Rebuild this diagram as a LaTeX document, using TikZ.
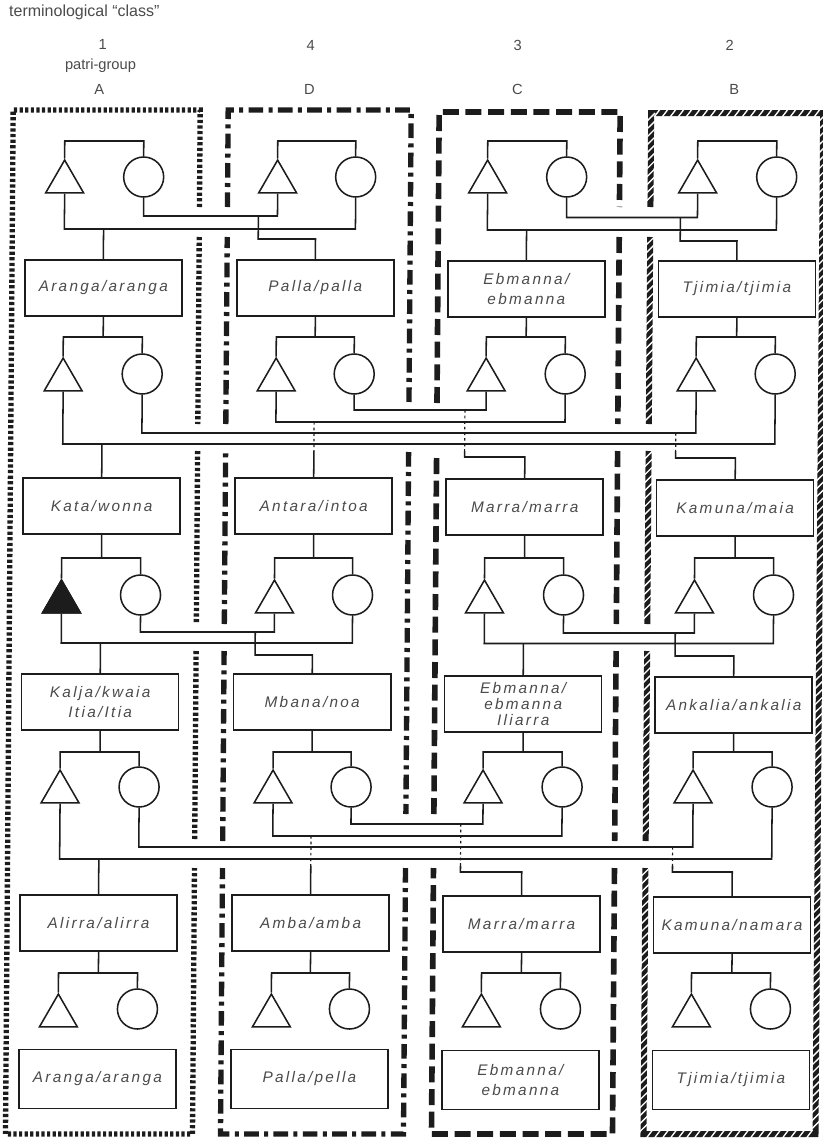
\documentclass[tikz,border=0pt]{standalone}
\usepackage{fontspec}
\setmainfont{Liberation Sans}
\newfontfamily\boxfont{Liberation Sans}[LetterSpace=15]
\usetikzlibrary{shapes.geometric}
\definecolor{ink}{RGB}{28,28,28}
\definecolor{txt}{RGB}{75,75,75}
\tikzset{
  conn/.style={draw=ink, line width=1.15pt},
  cross/.style={draw=ink, line width=0.9pt, dash pattern=on 2pt off 2.2pt},
  male/.style={regular polygon, regular polygon sides=3, draw=ink, line width=1.15pt, inner sep=0pt, minimum size=32.9pt},
  female/.style={circle, draw=ink, line width=1.15pt, inner sep=0pt, minimum size=30pt},
  kin/.style={draw=ink, line width=1.15pt, rectangle, minimum width=117.75pt, minimum height=42pt, inner sep=1pt, align=center, text=txt, font=\boxfont\itshape\fontsize{11.5}{15}\selectfont},
  hdr/.style={text=txt, inner sep=0pt, font=\fontsize{11}{13}\selectfont},
  grpA/.style={draw=ink, line width=4pt, dash pattern=on 2.4pt off 1.8pt},
  grpD/.style={draw=ink, line width=4pt, dash pattern=on 11pt off 4pt on 3pt off 4pt},
  grpC/.style={draw=ink, line width=4.2pt, dash pattern=on 12pt off 5pt},
  grpB/.style={draw=ink, line width=4.5pt},
  hatch/.style={draw=white, line width=1pt},
}
\begin{document}
\begin{tikzpicture}[x=0.75pt, y=-0.75pt]
\fill[white] (0,0) rectangle (823,1138);
\useasboundingbox (0,0) rectangle (823,1138);
\begin{scope}[xslant=0.0075]
% ---------- header ----------
\node[hdr, anchor=west, font=\fontsize{12}{14}\selectfont] (title) at (9,12) {terminological ``class''};
\node[hdr] (n1) at (103,44) {1};
\node[hdr] (pg) at (101,66) {patri-group};
\node[hdr] (gA) at (100,89) {A};
\node[hdr] (n4) at (311,45) {4};
\node[hdr] (gD) at (310,89) {D};
\node[hdr] (n3) at (518,45) {3};
\node[hdr] (gC) at (518,89) {C};
\node[hdr] (n2) at (730,45) {2};
\node[hdr] (gB) at (735,89) {B};

% ---------- symbols ----------
\foreach \r/\ty/\cy in {1/182/177, 2/380/374, 3/602/595, 4/792/787, 5/1016/1009} {
  \foreach \c/\tx/\cx in {A/66/145, D/279/357, C/489/568, B/699/778} {
    \node[male] (m\c\r) at (\tx,\ty) {};
    \node[female] (f\c\r) at (\cx,\cy) {};
  }
}
\fill[ink] (mA3.corner 1) -- (mA3.corner 2) -- (mA3.corner 3) -- cycle;

% ---------- boxes ----------
\node[kin] (bA1) at (105.5,288) {Aranga/aranga};
\node[kin] (bD1) at (317.5,288) {Palla/palla};
\node[kin] (bC1) at (528.5,289) {Ebmanna/\\ebmanna};
\node[kin] (bB1) at (739,289) {Tjimia/tjimia};
\node[kin] (bA2) at (105.5,506) {Kata/wonna};
\node[kin] (bD2) at (317.5,506) {Antara/intoa};
\node[kin] (bC2) at (528.5,507) {Marra/marra};
\node[kin] (bB2) at (739,508) {Kamuna/maia};
\node[kin] (bA3) at (105.5,702) {Kalja/kwaia\\Itia/Itia};
\node[kin] (bD3) at (317.5,702) {Mbana/noa};
\node[kin, font=\boxfont\itshape\fontsize{11.5}{12.2}\selectfont] (bC3) at (528.5,704) {Ebmanna/\\ebmanna\\Iliarra};
\node[kin] (bB3) at (739,705) {Ankalia/ankalia};
\node[kin] (bA4) at (105.5,923) {Alirra/alirra};
\node[kin] (bD4) at (317.5,923) {Amba/amba};
\node[kin] (bC4) at (528.5,924) {Marra/marra};
\node[kin] (bB4) at (739,925) {Kamuna/namara};
\node[kin, minimum height=44pt] (bA5) at (105.5,1079) {Aranga/aranga};
\node[kin, minimum height=44pt] (bD5) at (317.5,1079) {Palla/pella};
\node[kin, minimum height=44pt] (bC5) at (528.5,1080) {Ebmanna/\\ebmanna};
\node[kin, minimum height=44pt] (bB5) at (739,1080) {Tjimia/tjimia};

% ---------- sibling bars ----------
\foreach \r/\by in {1/141, 2/337, 3/558, 4/752, 5/973} {
  \coordinate (bar\r) at (0,\by);
  \foreach \c in {A,D,C,B} {
    \draw[conn] (m\c\r.north) -- (m\c\r.north |- bar\r) -| (f\c\r.north);
  }
}
\foreach \p/\r in {1/2, 2/3, 3/4, 4/5} {
  \foreach \c in {A,D,C,B} {
    \draw[conn] (b\c\p.south) -- (b\c\p.south |- bar\r);
  }
}

% ---------- generation 1 marriages ----------
\coordinate (r1a) at (0,216);  \coordinate (r1b) at (0,229);
\coordinate (r1c) at (0,217.5);\coordinate (r1d) at (0,230);
\coordinate (r1e) at (0,239);  \coordinate (r1f) at (0,241);
\draw[conn] (fA1.south) -- (fA1.south |- r1a) -| (mD1.south);
\draw[conn] (mA1.south) -- (mA1.south |- r1b) -| (fD1.south);
\draw[conn] (fC1.south) -- (fC1.south |- r1c) -| (mB1.south);
\draw[conn] (mC1.south) -- (mC1.south |- r1d) -| (fB1.south);
\coordinate (kD1) at (260,216); \coordinate (kB1) at (682,217.5);
\draw[conn] (kD1) -- (kD1 |- r1e) -| (bD1.north);
\draw[conn] (kB1) -- (kB1 |- r1f) -| (bB1.north);
\draw[conn] (bA1.north |- r1b) -- (bA1.north);
\draw[conn] (bC1.north |- r1d) -- (bC1.north);

% ---------- generation 2 marriages ----------
\coordinate (r2a) at (0,410); \coordinate (r2b) at (0,422);
\coordinate (r2c) at (0,433); \coordinate (r2d) at (0,444);
\coordinate (r2e) at (0,457); \coordinate (r2f) at (0,458);
\coordinate (r2x) at (0,451);
\draw[conn] (fD2.south) -- (fD2.south |- r2a) -| (mC2.south);
\draw[conn] (mD2.south) -- (mD2.south |- r2b) -| (fC2.south);
\draw[conn] (fA2.south) -- (fA2.south |- r2c) -| (mB2.south);
\draw[conn] (mA2.south) -- (mA2.south |- r2d) -| (fB2.south);
\draw[conn] (bA2.north |- r2d) -- (bA2.north);
\draw[cross] (bD2.north |- r2b) -- (bD2.north |- r2x);
\draw[conn] (bD2.north |- r2x) -- (bD2.north);
\coordinate (kC2) at (468,410); \coordinate (kB2) at (679,433);
\draw[cross] (kC2) -- (kC2 |- r2x);
\draw[conn] (kC2 |- r2x) -- (kC2 |- r2e) -| (bC2.north);
\draw[cross] (kB2) -- (kB2 |- r2x);
\draw[conn] (kB2 |- r2x) -- (kB2 |- r2f) -| (bB2.north);

% ---------- generation 3 marriages ----------
\coordinate (r3a) at (0,632);  \coordinate (r3b) at (0,643);
\coordinate (r3c) at (0,633);  \coordinate (r3d) at (0,643.5);
\coordinate (r3e) at (0,655);  \coordinate (r3f) at (0,656);
\draw[conn] (fA3.south) -- (fA3.south |- r3a) -| (mD3.south);
\draw[conn] (mA3.south) -- (mA3.south |- r3b) -| (fD3.south);
\draw[conn] (fC3.south) -- (fC3.south |- r3c) -| (mB3.south);
\draw[conn] (mC3.south) -- (mC3.south |- r3d) -| (fB3.south);
\coordinate (kD3) at (260,632); \coordinate (kB3) at (680,633);
\draw[conn] (kD3) -- (kD3 |- r3e) -| (bD3.north);
\draw[conn] (kB3) -- (kB3 |- r3f) -| (bB3.north);
\draw[conn] (bA3.north |- r3b) -- (bA3.north);
\draw[conn] (bC3.north |- r3d) -- (bC3.north);

% ---------- generation 4 marriages ----------
\coordinate (r4a) at (0,824); \coordinate (r4b) at (0,836);
\coordinate (r4c) at (0,847); \coordinate (r4d) at (0,859);
\coordinate (r4e) at (0,872); \coordinate (r4x) at (0,866);
\draw[conn] (fD4.south) -- (fD4.south |- r4a) -| (mC4.south);
\draw[conn] (mD4.south) -- (mD4.south |- r4b) -| (fC4.south);
\draw[conn] (fA4.south) -- (fA4.south |- r4c) -| (mB4.south);
\draw[conn] (mA4.south) -- (mA4.south |- r4d) -| (fB4.south);
\draw[conn] (bA4.north |- r4d) -- (bA4.north);
\draw[cross] (bD4.north |- r4b) -- (bD4.north |- r4x);
\draw[conn] (bD4.north |- r4x) -- (bD4.north);
\coordinate (kC4) at (467,824); \coordinate (kB4) at (679,847);
\draw[cross] (kC4) -- (kC4 |- r4x);
\draw[conn] (kC4 |- r4x) -- (kC4 |- r4e) -| (bC4.north);
\draw[cross] (kB4) -- (kB4 |- r4x);
\draw[conn] (kB4 |- r4x) -- (kB4 |- r4e) -| (bB4.north);

% ---------- patri-group frames ----------
% A (dotted)
\draw[grpA] (201,207) -- (201,110) -- (14,110) -- (14,1134) -- (201,1134) -- (201,868);
\draw[grpA] (201,237) -- (201,424);
\draw[grpA] (201,451) -- (201,624);
\draw[grpA] (201,651) -- (201,841);
% D (dash-dot)
\draw[grpD] (229,207) -- (229,110) -- (412,110) -- (412,403);
\draw[grpD] (412,452) -- (412,814);
\draw[grpD] (412,868) -- (412,1134) -- (229,1134) -- (229,868);
\draw[grpD] (229,841) -- (229,651);
\draw[grpD] (229,624) -- (229,451);
\draw[grpD] (229,424) -- (229,237);
% C (dashed)
\draw[grpC] (440,403) -- (440,112) -- (621,112) -- (621,207);
\draw[grpC] (621,237) -- (621,424);
\draw[grpC] (621,451) -- (621,624);
\draw[grpC] (621,651) -- (621,841);
\draw[grpC] (621,868) -- (621,1134) -- (440,1134) -- (440,868);
\draw[grpC] (440,814) -- (440,452);
% B (hatched)
\draw[grpB] (652,207) -- (652,113) -- (824,113) -- (824,1134) -- (652,1134) -- (652,868);
\draw[grpB] (652,841) -- (652,651);
\draw[grpB] (652,624) -- (652,451);
\draw[grpB] (652,424) -- (652,237);
\foreach \t in {117,125,...,1130} {
  \draw[hatch] (820,\t+4) -- (828,\t-4);
}
\foreach \a/\b in {117/203, 241/420, 455/620, 655/837, 872/1130} {
  \foreach \t in {\a,\numexpr\a+8\relax,...,\b} {
    \draw[hatch] (648,\t+4) -- (656,\t-4);
  }
}
\foreach \t in {658,666,...,818} {
  \draw[hatch] (\t-3,117) -- (\t+3,109);
  \draw[hatch] (\t-3,1138) -- (\t+3,1130);
}
\end{scope}
\end{tikzpicture}
\end{document}
